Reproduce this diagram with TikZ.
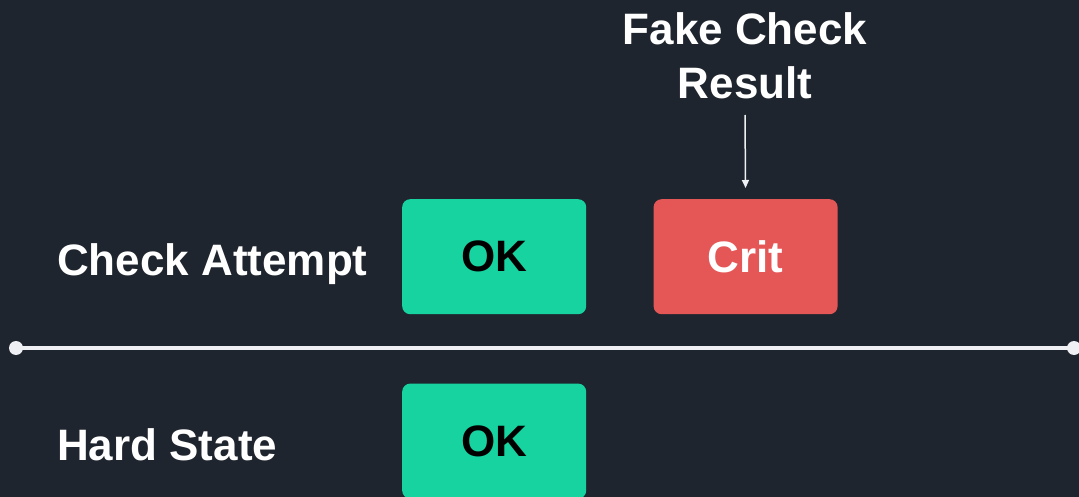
\documentclass[tikz,border=0pt]{standalone}
\usepackage{fontspec}
\setmainfont{Liberation Sans}
\usetikzlibrary{arrows.meta, positioning}
\definecolor{bgdark}{RGB}{31, 37, 46}
\definecolor{okgreen}{RGB}{22, 211, 160}
\definecolor{critred}{RGB}{229, 87, 86}
\definecolor{linegrey}{RGB}{238, 240, 243}

\begin{document}
\begin{tikzpicture}[
  x=1pt, y=-1pt,
  statebox/.style={rounded corners=8pt, minimum width=184pt, minimum height=115pt, inner sep=0pt, font=\fontsize{44}{52}\selectfont\bfseries},
  okbox/.style={statebox, fill=okgreen, text=black},
  critbox/.style={statebox, fill=critred, text=white},
  rowlabel/.style={anchor=base west, inner sep=0pt, text=white, font=\fontsize{44}{52}\selectfont\bfseries}
]
  \fill[bgdark] (0,0) rectangle (1079,497);
  \useasboundingbox (0,0) rectangle (1079,497);

  % rows
  \node[rowlabel] (attempt) at (57,276) {Check Attempt};
  \node[rowlabel] (hard) at (57,460) {Hard State};

  % boxes
  \node[okbox, anchor=north west] (okcheck) at (402,199) {OK};
  \node[critbox, right=67pt of okcheck] (crit) {Crit};
  \node[okbox, below=69pt of okcheck] (okhard) {OK};

  % divider
  \coordinate (lstart) at (16,348);
  \coordinate (lend) at (1074,348);
  \draw[linegrey, line width=4pt] (lstart) -- (lend);
  \fill[linegrey] (lstart) circle (7pt);
  \fill[linegrey] (lend) circle (7pt);

  % fake result
  \node[anchor=north, align=center, inner sep=0pt, text=white, font=\fontsize{44}{54}\selectfont\bfseries] (fake) at (745,12) {Fake Check\\Result};
  \coordinate (arrtop) at (745,115);
  \draw[linegrey, line width=1.5pt, -{Triangle[length=8pt, width=7pt]}, shorten >=11pt] (arrtop) -- (crit.north);
\end{tikzpicture}
\end{document}
